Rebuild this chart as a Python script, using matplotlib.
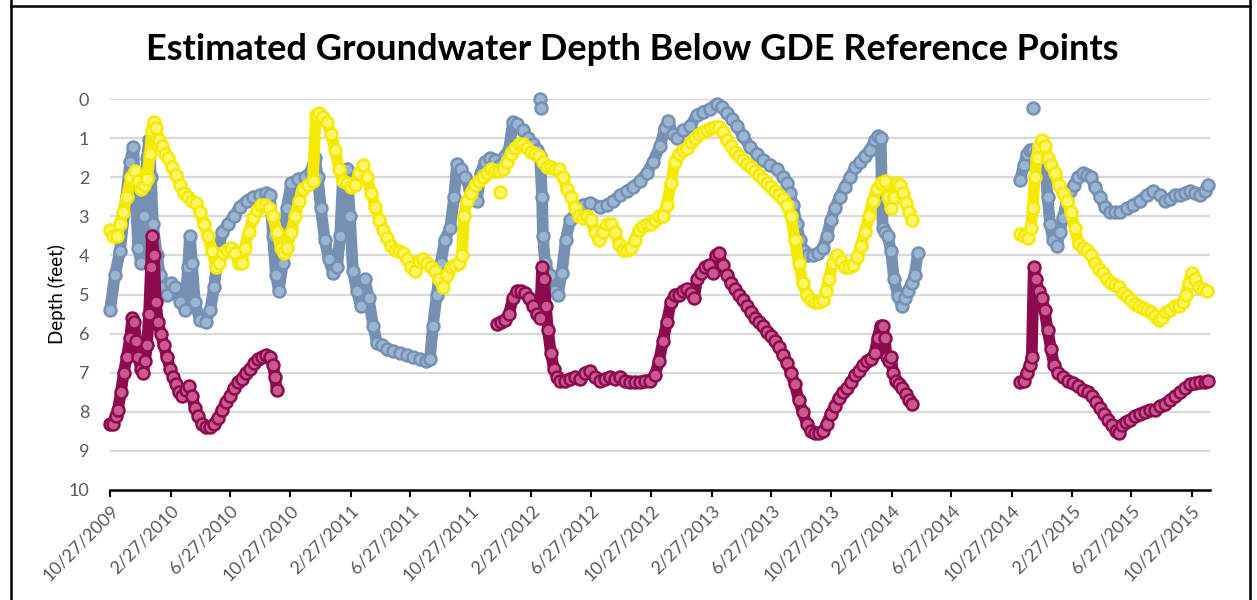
import numpy as np
import pandas as pd
import matplotlib
matplotlib.use("Agg")
import matplotlib.pyplot as plt
from matplotlib.lines import Line2D

# ---------------- data (days since 10/27/2009, depth in feet) ----------------
START = "2009-10-27"

blue1_days = [0,10,20,30,41,47,57,63,69,75,
              79,83,87,95,101,109,115,124,132,142,
              152,158,162,166,172,182,194,203,211,219,
              227,239,251,263,277,290,304,316,324,330,
              336,342,350,358,367,381,395,407,415,421,
              427,435,443,452,460,466,472,480,486,492,
              500,508,516,524,533,541,551,561,573,587,
              601,614,628,640,648,654,662,670,678,689,
              697,703,711,719,729,737,743,751,759,770,
              780,790,800,808,816,824,836,846,857,865,
              871,875,877,881,891,901,907,915,923,932,
              946,958,972,992,1006,1019,1033,1047,1059,1073,
              1087,1100,1114,1124,1130,1140,1148,1160,1175,1189,
              1201,1215,1229,1239,1249,1260,1270,1282,1296,1310,
              1322,1337,1351,1363,1371,1377,1383,1391,1397,1405,
              1413,1424,1434,1444,1452,1460,1468,1478,1488,1499,
              1509,1519,1529,1539,1549,1555,1561,1565,1569,1575,
              1582,1588,1596,1604,1610,1616,1624,1630,1636]
blue1_depth = [5.4,4.5,3.9,2.8,1.6,1.22,3.8,4.2,3.0,1.5,
               1.05,2.0,3.2,4.0,4.5,4.8,5.0,4.7,4.8,5.2,
               5.4,4.3,3.5,4.2,5.2,5.65,5.7,5.4,4.8,3.9,
               3.4,3.2,3.0,2.75,2.6,2.5,2.45,2.4,2.45,3.5,
               4.5,4.9,4.2,2.8,2.15,2.05,2.0,1.85,1.5,2.0,
               2.8,3.6,4.1,4.45,4.3,3.5,1.95,1.8,3.0,4.4,
               4.9,5.3,4.6,5.1,5.8,6.25,6.3,6.4,6.45,6.5,
               6.55,6.6,6.65,6.7,6.65,5.8,5.0,4.2,3.6,3.3,
               2.5,1.65,1.8,2.0,2.3,2.5,2.6,1.9,1.6,1.5,
               1.55,1.7,1.45,1.3,0.6,0.65,0.8,1.0,1.15,1.3,
               1.45,2.5,3.5,4.2,4.5,4.9,5.0,4.45,3.6,3.1,
               2.85,2.7,2.65,2.75,2.7,2.6,2.45,2.35,2.25,2.1,
               1.9,1.6,1.2,0.75,0.55,0.9,1.0,0.8,0.7,0.4,
               0.32,0.25,0.12,0.2,0.37,0.5,0.7,0.95,1.22,1.4,
               1.56,1.7,1.8,2.0,2.15,2.4,2.7,3.2,3.6,3.9,
               4.0,4.0,3.95,3.8,3.5,3.1,2.8,2.5,2.25,2.0,
               1.75,1.6,1.45,1.3,1.05,0.95,1.0,3.3,3.4,3.5,
               3.9,4.6,5.05,5.3,5.1,4.9,4.7,4.5,3.95]

blue2_days = [1843,1851,1857,1863,1869,1877,1885,1893,1899,1904,
              1910,1918,1924,1930,1938,1944,1952,1960,1970,1978,
              1987,1995,2005,2015,2025,2035,2045,2059,2072,2086,
              2100,2112,2126,2136,2147,2157,2167,2177,2187,2197,
              2207,2217,2223]
blue2_depth = [2.07,1.7,1.4,1.3,1.3,1.35,1.4,1.55,2.5,3.2,
               3.6,3.75,3.4,3.05,2.6,2.35,2.2,2.0,1.9,1.95,
               2.0,2.25,2.5,2.75,2.9,2.9,2.9,2.8,2.7,2.6,
               2.45,2.35,2.45,2.6,2.55,2.45,2.45,2.4,2.35,2.4,
               2.45,2.35,2.2]
blue_out_days = [871, 873, 1869]
blue_out_depth = [0.0, 0.22, 0.24]

yellow1_days = [0,6,14,20,26,34,43,51,57,63,
                69,75,81,85,89,93,99,105,111,117,
                126,134,142,150,158,166,174,182,190,198,
                207,215,221,229,237,245,253,261,267,273,
                281,290,298,306,314,322,330,338,346,352,
                358,367,375,383,391,401,411,417,423,431,
                439,448,456,464,472,480,488,496,504,512,
                520,529,537,545,553,561,569,577,585,593,
                601,610,618,626,634,642,650,658,666,674,
                682,691,699,707,713,717,723,731,739,747,
                755,763,772,780,788,796,804,812,820,828,
                836,844,853,861,869,877,885,893,901,909,
                917,925,934,942,950,958,966,974,982,990,
                998,1006,1015,1023,1031,1039,1047,1055,1063,1071,
                1079,1087,1096,1104,1112,1120,1128,1136,1144,1152,
                1160,1168,1177,1185,1193,1201,1209,1217,1225,1233,
                1241,1249,1258,1266,1274,1282,1290,1298,1306,1314,
                1322,1330,1339,1347,1355,1363,1371,1379,1387,1395,
                1403,1411,1420,1428,1436,1444,1450,1456,1464,1472,
                1480,1488,1496,1505,1513,1521,1529,1537,1545,1553,
                1561,1569,1575,1582,1588,1594,1600,1606,1612,1618,1624]
yellow1_depth = [3.35,3.5,3.5,3.2,2.9,2.5,2.0,1.85,2.1,2.3,
                 2.2,2.05,1.4,0.8,0.6,0.75,1.05,1.2,1.4,1.5,
                 1.75,1.95,2.2,2.4,2.5,2.6,2.65,2.9,3.2,3.5,
                 3.9,4.3,4.2,3.95,3.85,3.8,3.95,4.2,4.2,3.8,
                 3.4,3.05,2.85,2.7,2.7,2.8,3.0,3.4,3.8,3.95,
                 3.8,3.4,3.0,2.6,2.3,2.2,2.1,0.4,0.37,0.45,
                 0.6,0.9,1.3,1.8,2.1,2.15,2.25,2.2,1.9,1.7,
                 2.0,2.4,2.75,3.1,3.35,3.55,3.75,3.85,3.9,3.95,
                 4.1,4.3,4.4,4.15,4.1,4.2,4.3,4.4,4.6,4.8,
                 4.5,4.3,4.25,4.2,4.0,3.0,2.6,2.4,2.2,2.1,
                 2.0,1.9,1.8,1.85,1.85,1.8,1.6,1.4,1.25,1.15,
                 1.15,1.25,1.35,1.4,1.45,1.6,1.75,1.75,1.8,1.8,
                 2.0,2.3,2.5,2.8,3.0,3.05,3.0,3.1,3.4,3.6,
                 3.4,3.2,3.2,3.4,3.7,3.85,3.85,3.8,3.6,3.35,
                 3.25,3.2,3.2,3.1,3.0,3.0,2.7,2.15,1.6,1.4,
                 1.3,1.25,1.1,1.0,0.9,0.85,0.8,0.75,0.72,0.72,
                 0.85,1.05,1.2,1.35,1.45,1.55,1.65,1.75,1.85,1.95,
                 2.05,2.15,2.25,2.35,2.45,2.55,2.7,3.0,3.6,4.2,
                 4.7,5.0,5.15,5.2,5.2,5.15,4.9,4.6,4.2,4.0,
                 4.15,4.3,4.3,4.25,4.05,3.75,3.4,3.0,2.6,2.3,
                 2.15,2.1,2.5,2.8,2.5,2.15,2.2,2.4,2.65,2.9,3.1]

yellow2_days = [1843,1851,1859,1865,1869,1873,1877,1881,1887,1893,
                1899,1906,1914,1922,1930,1938,1946,1954,1962,1970,
                1978,1987,1995,2003,2011,2019,2027,2035,2043,2051,
                2059,2068,2076,2084,2092,2100,2108,2116,2124,2130,
                2138,2147,2157,2165,2173,2179,2185,2191,2197,2205,
                2213,2221]
yellow2_depth = [3.45,3.5,3.55,3.3,2.8,2.0,1.5,1.2,1.05,1.2,
                 1.5,1.7,1.9,2.2,2.4,2.6,2.9,3.3,3.7,3.8,
                 3.85,4.0,4.2,4.35,4.45,4.6,4.7,4.75,4.8,4.95,
                 5.05,5.15,5.25,5.3,5.35,5.4,5.45,5.55,5.65,5.6,
                 5.45,5.4,5.3,5.3,5.2,5.0,4.7,4.45,4.6,4.8,
                 4.85,4.9]
yellow_out_days = [790]
yellow_out_depth = [2.37]

maroon1_days = [0,6,12,16,22,28,34,41,45,49,
                53,57,63,67,71,75,79,83,85,89,
                93,97,103,109,115,122,128,134,140,146,
                154,160,166,172,178,186,194,203,211,219,
                227,235,243,251,259,267,275,284,292,300,
                308,316,324,330,334,338]
maroon1_depth = [8.3,8.3,8.1,7.95,7.5,7.0,6.6,6.1,5.6,5.7,
                 6.2,6.6,6.9,7.0,6.7,6.3,5.5,4.3,3.5,4.0,
                 5.2,5.7,6.0,6.3,6.6,6.9,7.1,7.3,7.5,7.6,
                 7.45,7.35,7.6,7.9,8.1,8.3,8.4,8.4,8.3,8.15,
                 7.95,7.75,7.6,7.4,7.25,7.15,7.0,6.9,6.75,6.65,
                 6.6,6.55,6.6,6.8,7.1,7.45]

maroon2_days = [784,792,800,808,816,824,832,840,848,857,
                865,871,875,879,883,887,893,899,905,911,
                921,932,942,952,962,972,982,992,1002,1013,
                1023,1033,1043,1053,1063,1073,1083,1094,1104,1112,
                1120,1128,1136,1144,1152,1160,1168,1177,1183,1189,
                1197,1205,1213,1221,1227,1233,1241,1249,1258,1266,
                1274,1282,1290,1298,1306,1314,1322,1330,1339,1347,
                1355,1363,1371,1379,1387,1395,1403,1411,1420,1428,
                1436,1444,1452,1460,1468,1476,1484,1492,1501,1509,
                1517,1525,1533,1541,1549,1555,1561,1565,1569,1573,
                1577,1582,1586,1592,1598,1604,1612,1618,1624]
maroon2_depth = [5.75,5.7,5.65,5.5,5.1,4.9,4.9,4.95,5.1,5.3,
                 5.5,5.6,4.3,4.6,5.3,5.9,6.5,6.9,7.1,7.2,
                 7.2,7.15,7.1,7.15,7.0,6.95,7.1,7.2,7.15,7.1,
                 7.15,7.1,7.2,7.25,7.25,7.25,7.2,7.2,7.05,6.7,
                 6.2,5.7,5.2,5.0,5.0,4.9,4.85,4.95,5.1,4.6,
                 4.45,4.3,4.25,4.45,4.0,3.95,4.25,4.5,4.7,4.85,
                 5.0,5.15,5.3,5.45,5.6,5.7,5.8,5.95,6.05,6.2,
                 6.35,6.55,6.75,7.0,7.3,7.7,8.0,8.3,8.5,8.55,
                 8.55,8.5,8.3,8.05,7.85,7.65,7.5,7.4,7.25,7.05,
                 6.95,6.8,6.7,6.65,6.5,6.1,5.8,5.8,6.1,6.6,
                 6.7,6.6,7.0,7.2,7.3,7.4,7.55,7.7,7.8]

maroon3_days = [1843,1851,1857,1863,1867,1871,1875,1881,1887,1893,
                1899,1906,1912,1920,1930,1940,1950,1960,1970,1980,
                1989,1997,2005,2013,2021,2029,2037,2043,2049,2057,
                2066,2076,2086,2096,2106,2116,2126,2136,2147,2157,
                2167,2177,2187,2197,2207,2217,2223]
maroon3_depth = [7.25,7.2,7.0,6.8,6.6,4.3,4.6,4.9,5.1,5.4,
                 5.9,6.4,6.8,7.0,7.1,7.2,7.27,7.35,7.45,7.5,
                 7.6,7.75,7.9,8.05,8.2,8.35,8.5,8.55,8.35,8.25,
                 8.2,8.1,8.05,8.0,7.95,7.95,7.85,7.8,7.7,7.6,
                 7.5,7.4,7.3,7.27,7.25,7.25,7.2]

tick_labels = ["10/27/2009", "2/27/2010", "6/27/2010", "10/27/2010", "2/27/2011",
               "6/27/2011", "10/27/2011", "2/27/2012", "6/27/2012", "10/27/2012",
               "2/27/2013", "6/27/2013", "10/27/2013", "2/27/2014", "6/27/2014",
               "10/27/2014", "2/27/2015", "6/27/2015", "10/27/2015"]
x_end = "2015-12-03"
y_ticks = list(range(0, 11))

TITLE = "Estimated Groundwater Depth Below GDE Reference Points"
YLABEL = "Depth (feet)"

# ---------------- styles ----------------
BLUE_E, BLUE_F = "#7590B3", "#98B5D2"
YEL_E, YEL_F = "#F5E900", "#FFF566"
MAR_E, MAR_F = "#8C0A4F", "#C9598F"


def to_dates(days):
    return pd.Timestamp(START) + pd.to_timedelta(np.asarray(days), unit="D")


fig = plt.figure(figsize=(12.57, 6.0), dpi=100)
ax = fig.add_axes([110 / 1257, 1 - 490 / 600, 1100 / 1257, 391 / 600])

MS = 8.6
LW = 8.4
MEW = 1.8


def draw(days, depth, ec, fc, z):
    d = to_dates(days)
    ax.plot(d, depth, "-", color=ec, lw=LW, solid_joinstyle="round",
            solid_capstyle="round", zorder=z, clip_on=False)
    ax.plot(d, depth, "o", ls="none", ms=MS, mfc=fc, mec=ec, mew=MEW,
            zorder=z + 0.1, clip_on=False)


def draw_pts(days, depth, ec, fc, z):
    ax.plot(to_dates(days), depth, "o", ls="none", ms=MS, mfc=fc, mec=ec,
            mew=MEW, zorder=z + 0.1, clip_on=False)


draw(blue1_days, blue1_depth, BLUE_E, BLUE_F, 3)
draw(blue2_days, blue2_depth, BLUE_E, BLUE_F, 3)
draw_pts(blue_out_days, blue_out_depth, BLUE_E, BLUE_F, 3)
draw(maroon1_days, maroon1_depth, MAR_E, MAR_F, 4)
draw(maroon2_days, maroon2_depth, MAR_E, MAR_F, 4)
draw(maroon3_days, maroon3_depth, MAR_E, MAR_F, 4)
draw(yellow1_days, yellow1_depth, YEL_E, YEL_F, 5)
draw(yellow2_days, yellow2_depth, YEL_E, YEL_F, 5)
draw_pts(yellow_out_days, yellow_out_depth, YEL_E, YEL_F, 5)

tick_dates = pd.to_datetime(tick_labels, format="%m/%d/%Y")
ax.set_xlim(pd.Timestamp(START), pd.Timestamp(x_end))
ax.set_ylim(10, 0)
ax.set_yticks(y_ticks)
ax.set_yticklabels([str(v) for v in y_ticks])
ax.set_xticks(tick_dates)
ax.set_xticklabels(tick_labels, rotation=45, ha="right", rotation_mode="anchor")

for v in y_ticks[:-1]:
    ax.axhline(v, color="#D9D9D9", lw=1.6, zorder=1)

for s in ["left", "right", "top"]:
    ax.spines[s].set_visible(False)
ax.spines["bottom"].set_color("black")
ax.spines["bottom"].set_linewidth(1.8)
ax.spines["bottom"].set_zorder(2)

ax.tick_params(axis="y", length=0, pad=15, labelsize=13, labelcolor="#595959")
ax.tick_params(axis="x", length=5, width=1.5, color="black", pad=4,
               labelsize=13, labelcolor="#595959", direction="out")
for lab in ax.get_xticklabels() + ax.get_yticklabels():
    lab.set_family(["Lato", "DejaVu Sans"])

ax.set_ylabel(YLABEL, fontsize=13.5, family=["Lato", "DejaVu Sans"], color="black",
              labelpad=2)

fig.text(632 / 1257, 1 - 50 / 600, TITLE, ha="center", va="center",
         fontsize=26, fontweight="bold", family=["Lato", "DejaVu Sans"], color="black")

# outer frame (left, top, right)
frame = [([11, 11], [0, 600]), ([11, 1250], [594, 594]), ([1250, 1250], [600, 0])]
for xs, ys in frame:
    fig.add_artist(Line2D([x / 1257 for x in xs], [y / 600 for y in ys],
                          color="black", lw=1.8))

fig.savefig("out.png", dpi=100, facecolor="white")
